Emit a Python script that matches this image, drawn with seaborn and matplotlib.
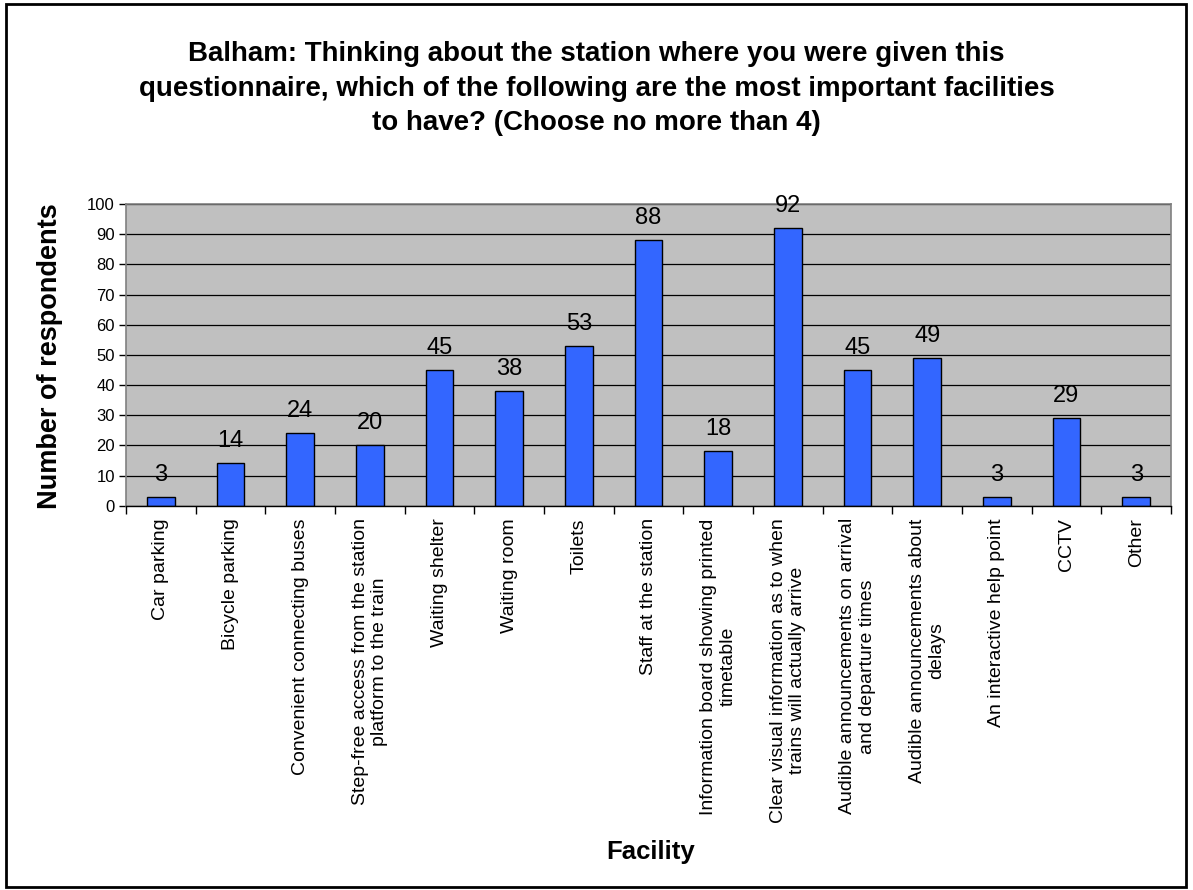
import matplotlib
matplotlib.use("Agg")
import matplotlib.pyplot as plt
from matplotlib.patches import Rectangle
from matplotlib.ticker import FixedLocator, MultipleLocator
import seaborn as sns
import pandas as pd

# Survey answers: facilities rated most important at Balham station
facilities = [
    "Car parking",
    "Bicycle parking",
    "Convenient connecting buses",
    "Step-free access from the station\nplatform to the train",
    "Waiting shelter",
    "Waiting room",
    "Toilets",
    "Staff at the station",
    "Information board showing printed\ntimetable",
    "Clear visual information as to when\ntrains will actually arrive",
    "Audible announcements on arrival\nand departure times",
    "Audible announcements about\ndelays",
    "An interactive help point",
    "CCTV",
    "Other",
]
respondents = [3, 14, 24, 20, 45, 38, 53, 88, 18, 92, 45, 49, 3, 29, 3]
y_ticks = [0, 10, 20, 30, 40, 50, 60, 70, 80, 90, 100]

title = ("Balham: Thinking about the station where you were given this\n"
         "questionnaire, which of the following are the most important facilities\n"
         "to have? (Choose no more than 4)")

sns.set_theme(style="white")
plt.rcParams["font.family"] = ["Liberation Sans", "DejaVu Sans"]
plt.rcParams.update({"text.color": "black", "axes.labelcolor": "black",
                     "xtick.color": "black", "ytick.color": "black"})

df = pd.DataFrame({"Facility": facilities, "Respondents": respondents})

W, H = 1193, 890
fig = plt.figure(figsize=(W / 100, H / 100), dpi=100)
fig.patch.set_facecolor("white")
ax = fig.add_axes([126 / W, 1 - 505.7 / H, 1045 / W, 301.7 / H])
ax.set_facecolor("#C0C0C0")

sns.barplot(data=df, x="Facility", y="Respondents", color="#3366FF",
            saturation=1, width=0.4, edgecolor="black", linewidth=1.0, ax=ax)

ax.set_xlim(-0.5, len(facilities) - 0.5)
ax.set_ylim(0, 100)
ax.yaxis.set_major_locator(FixedLocator(y_ticks))
ax.grid(axis="y", color="black", linewidth=0.9)
ax.set_axisbelow(True)

# Value labels above each bar
ax.bar_label(ax.containers[0], labels=[str(v) for v in respondents],
             padding=8, fontsize=17, color="black")

# Category labels rotated, ticks drawn at category boundaries
ax.set_xticks(range(len(facilities)))
ax.set_xticklabels(facilities, rotation=90, ha="center", va="top",
                   multialignment="center", linespacing=1.2, fontsize=14,
                   color="black")
ax.xaxis.set_minor_locator(MultipleLocator(1, offset=0.5))
ax.tick_params(axis="x", which="major", length=0, pad=9, colors="black")
ax.tick_params(axis="x", which="minor", bottom=True, length=6, width=1,
               color="black")
ax.tick_params(axis="y", which="major", left=True, length=5, width=1,
               labelsize=12, colors="black", pad=3)

for side in ["top", "right", "left"]:
    ax.spines[side].set_color("#808080")
    ax.spines[side].set_linewidth(1.2)
ax.spines["bottom"].set_color("black")
ax.spines["bottom"].set_linewidth(1)

ax.set_xlabel("")
ax.set_ylabel("")
fig.text(50 / W, 1 - 356 / H, "Number of respondents", rotation=90,
         ha="center", va="center", fontsize=19.5, fontweight="bold",
         color="black")
fig.text(651 / W, 1 - 859 / H, "Facility", ha="center", va="baseline",
         fontsize=18.5, fontweight="bold", color="black")
fig.text(0.5, 1 - 130 / H, title, ha="center", va="baseline",
         fontsize=20, fontweight="bold", linespacing=1.42, color="black")

# Chart frame
fig.patches.append(Rectangle((6 / W, 3 / H), 1180 / W, 883 / H,
                             transform=fig.transFigure, fill=False,
                             edgecolor="black", linewidth=2))

fig.savefig("out.png", dpi=100)
